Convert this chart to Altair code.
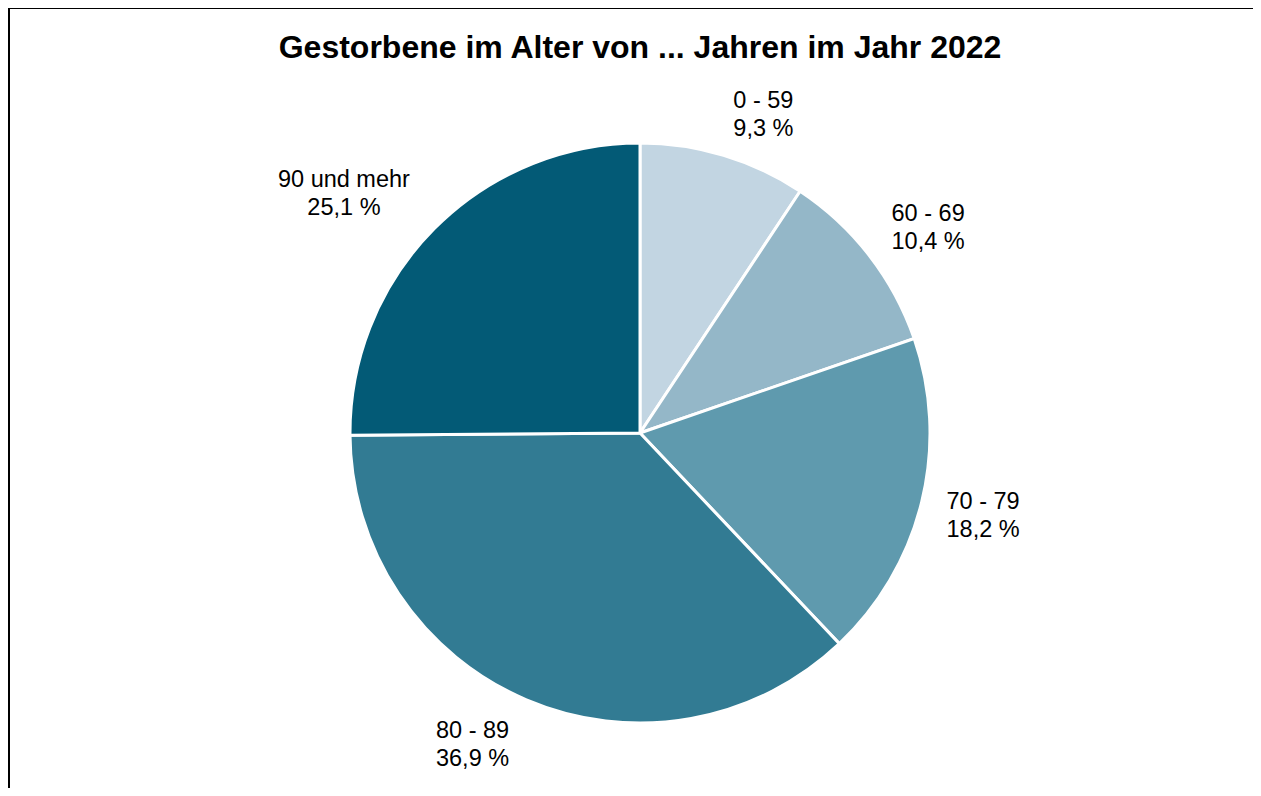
import altair as alt
import pandas as pd

title_text = "Gestorbene im Alter von ... Jahren im Jahr 2022"
categories = ["0 - 59", "60 - 69", "70 - 79", "80 - 89", "90 und mehr"]
shares = [9.3, 10.4, 18.2, 36.9, 25.1]
colors = ["#c2d5e2", "#94b7c8", "#5f9aae", "#327b93", "#035a76"]

labels = [f"{c}\n{str(v).replace('.', ',')} %" for c, v in zip(categories, shares)]
df = pd.DataFrame({"cat": categories, "share": shares, "order": list(range(len(categories))), "label": labels})
total = float(sum(shares))

W, H = 1245, 780
CX, CY = 632, 425
theta_scale = alt.Scale(domain=[0, total])

pie = alt.Chart(df).mark_arc(outerRadius=290, stroke="white", strokeWidth=3).encode(
    theta=alt.Theta("share:Q", stack=True, scale=theta_scale),
    order=alt.Order("order:Q"),
    color=alt.Color("cat:N", scale=alt.Scale(domain=categories, range=colors), legend=None),
    x=alt.value(CX), y=alt.value(CY),
)

label_base = alt.Chart(df).transform_window(
    cum="sum(share)", sort=[alt.SortField("order")], frame=[None, 0]
).transform_calculate(mid="datum.cum - datum.share / 2")

# (category, baseline, dx, dy) -- label offsets from the anchor on the label circle
placements = [
    ("0 - 59", "bottom", 34, -23),
    ("60 - 69", "bottom", 43, -17),
    ("70 - 79", "middle", 42, -5),
    ("80 - 89", "top", -46, 1),
    ("90 und mehr", "bottom", -76, -23),
]
text_layers = []
for cat, bl, ddx, ddy in placements:
    text_layers.append(
        label_base.transform_filter(alt.FieldEqualPredicate(field="cat", equal=cat))
        .mark_text(radius=310, fontSize=23.5, font="Liberation Sans", lineBreak="\n",
                   lineHeight=28, align="center", baseline=bl, dx=ddx, dy=ddy, color="black")
        .encode(theta=alt.Theta("mid:Q", scale=theta_scale), text="label:N",
                x=alt.value(CX), y=alt.value(CY))
    )

tdf = pd.DataFrame({"t": [title_text]})
title = alt.Chart(tdf).mark_text(fontSize=32, fontWeight="bold", font="Liberation Sans",
                                 align="center", baseline="middle", color="black").encode(
    text="t:N", x=alt.value(CX), y=alt.value(40))

bdf = pd.DataFrame({"b": [0]})
top_rule = alt.Chart(bdf).mark_rule(color="black", strokeWidth=2).encode(
    x=alt.value(0), x2=alt.value(W), y=alt.value(0))
left_rule = alt.Chart(bdf).mark_rule(color="black", strokeWidth=2).encode(
    x=alt.value(1), y=alt.value(0), y2=alt.value(H))

chart = alt.layer(pie, *text_layers, title, top_rule, left_rule).properties(
    width=W, height=H, padding=0, autosize=alt.AutoSizeParams(type="none"),
    background="white"
).configure_view(stroke=None)

chart.save("out.html", embed_options={"renderer": "svg", "actions": False})
